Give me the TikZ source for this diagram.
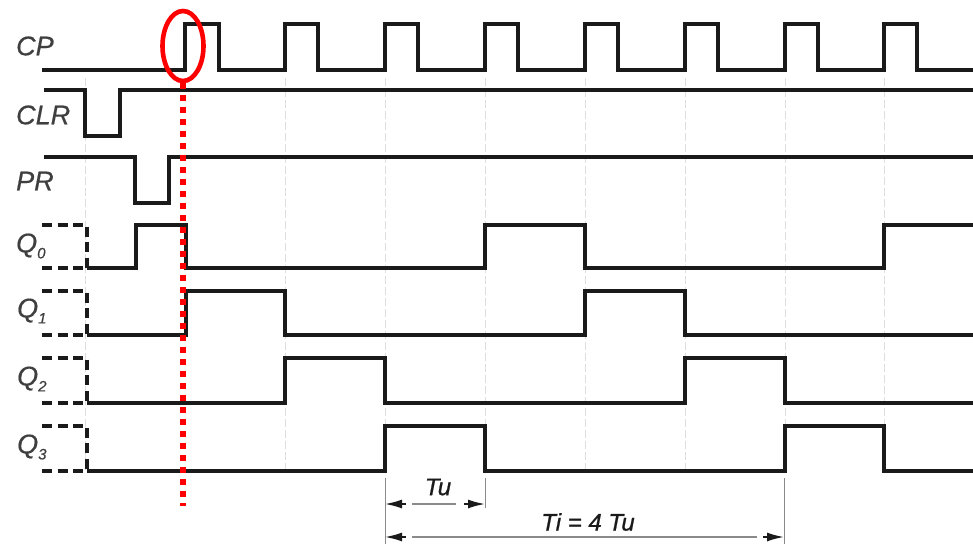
\documentclass[tikz,border=0pt]{standalone}
\usepackage{fontspec}
\setmainfont{Liberation Sans}
\usetikzlibrary{arrows.meta,shapes.geometric}
\definecolor{ink}{HTML}{1A1A1A}
\definecolor{labelgrey}{HTML}{3F3F3F}
\definecolor{guidegrey}{HTML}{DEDEDE}
\definecolor{dimgrey}{HTML}{8A8A8A}
\tikzset{
  trace/.style={draw=ink,line width=3.5pt,line join=miter,line cap=butt},
  ghost/.style={draw=ink,line width=3.5pt,dash pattern=on 10pt off 5.5pt},
  guide/.style={draw=guidegrey,line width=0.9pt,dash pattern=on 8pt off 3pt},
  sig/.style={font=\fontsize{27}{27}\selectfont\itshape\addfontfeature{FakeBold=0.5},text=labelgrey,inner sep=0pt,anchor=west},
  dimtext/.style={font=\fontsize{24}{24}\selectfont\itshape\addfontfeature{FakeBold=0.8},text=ink,inner sep=0pt},
  dimline/.style={draw=dimgrey,line width=1.4pt},
  dimtick/.style={draw=dimgrey,line width=0.8pt},
  dimhead/.style={draw=ink,line width=1.8pt,-{Latex[length=17pt,width=9pt]}},
  marker/.style={draw=red,line width=4.6pt},
  markerdots/.style={draw=red,line width=5.5pt,dash pattern=on 6pt off 6pt}
}
\begin{document}
\begin{tikzpicture}[x=1pt,y=-1pt]
\useasboundingbox (0,0) rectangle (973,544);
\fill[white] (0,0) rectangle (973,544);
% faint vertical guides
\foreach \gx in {85,285,385,485,585,685,785,884}{
  \draw[guide] (\gx,78) -- (\gx,470);
}
% labels
\node[sig] (lcp) at (16,46) {CP};
\node[sig] (lclr) at (16,115) {CLR};
\node[sig] (lpr) at (16,181) {PR};
\node[sig] (lq0) at (16,246) {Q\raisebox{-6pt}{\fontsize{15}{15}\selectfont 0}};
\node[sig] (lq1) at (17,311) {Q\raisebox{-6pt}{\fontsize{15}{15}\selectfont 1}};
\node[sig] (lq2) at (17,379) {Q\raisebox{-6pt}{\fontsize{15}{15}\selectfont 2}};
\node[sig] (lq3) at (17,447) {Q\raisebox{-6pt}{\fontsize{15}{15}\selectfont 3}};
% waveforms
\draw[trace] (42,70) -- (185,70) -- (185,24) -- (219,24) -- (219,70)
  -- (285,70) -- (285,24) -- (318,24) -- (318,70)
  -- (385,70) -- (385,24) -- (418,24) -- (418,70)
  -- (485,70) -- (485,24) -- (518,24) -- (518,70)
  -- (585,70) -- (585,24) -- (618,24) -- (618,70)
  -- (685,70) -- (685,24) -- (718,24) -- (718,70)
  -- (785,70) -- (785,24) -- (818,24) -- (818,70)
  -- (884,70) -- (884,24) -- (917,24) -- (917,70) -- (973,70);
\draw[trace] (44,90) -- (85,90) -- (85,136) -- (120,136) -- (120,90) -- (973,90);
\draw[trace] (44,157) -- (135,157) -- (135,203) -- (169,203) -- (169,157) -- (973,157);
\draw[trace] (87,268) -- (136,268) -- (136,225) -- (186,225) -- (186,268) -- (485,268)
  -- (485,225) -- (585,225) -- (585,268) -- (884,268) -- (884,225) -- (973,225);
\draw[trace] (87,335) -- (186,335) -- (186,291) -- (285,291) -- (285,335) -- (585,335)
  -- (585,291) -- (685,291) -- (685,335) -- (973,335);
\draw[trace] (87,403) -- (285,403) -- (285,358) -- (385,358) -- (385,403) -- (685,403)
  -- (685,358) -- (785,358) -- (785,403) -- (973,403);
\draw[trace] (87,471) -- (385,471) -- (385,426) -- (485,426) -- (485,471) -- (785,471)
  -- (785,426) -- (884,426) -- (884,471) -- (973,471);
% dashed initial states
\foreach \yh/\yl in {225/268,291/335,358/403,426/471}{
  \draw[ghost] (42,\yh) -- (87,\yh) -- (87,\yl);
  \draw[ghost] (42,\yl) -- (87,\yl);
}
% dimensions
\coordinate (tua) at (385,504);
\coordinate (tub) at (485,504);
\coordinate (tia) at (385,537);
\coordinate (tib) at (784,537);
\draw[dimtick] (385,478) -- (385,544);
\draw[dimtick] (485,478) -- (485,508);
\draw[dimtick] (784,478) -- (784,544);
\draw[dimline] (412,504) -- (456,504);
\draw[dimline] (412,537) -- (757,537);
\draw[dimhead] (406,504) -- (tua);
\draw[dimhead] (464,504) -- (tub);
\draw[dimhead] (406,537) -- (tia);
\draw[dimhead] (763,537) -- (tib);
\node[dimtext] (tu) at (438,487) {Tu};
\node[dimtext] (ti) at (588,522) {Ti = 4 Tu};
% red marker
\node[marker,ellipse,minimum width=41pt,minimum height=70pt,inner sep=0pt] (ring) at (183,46) {};
\coordinate (dotend) at (183,506);
\draw[markerdots] (ring.south) -- (dotend);
\end{tikzpicture}
\end{document}
